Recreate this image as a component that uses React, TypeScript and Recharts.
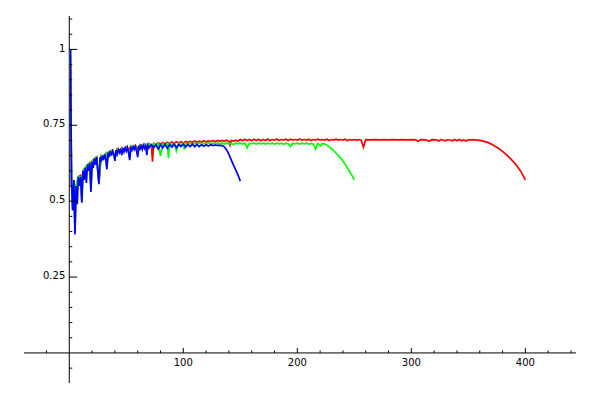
import React from "react";
import { LineChart, Line, XAxis, YAxis, ReferenceLine } from "recharts";

// ---- data ----
const redN = [1,2,3,4,5,6,8,10,11,12,14,16,18,19,20,22,24,26,28,30,32,33,34,36,38,40,42,44,46,48,50,52,54,56,58,60,62,64,66,68,70,72,73,74,76,78,80,82,84,86,88,90,92,94,96,98,100,102,104,106,108,110,112,114,116,118,120,122,124,126,128,130,132,134,136,138,140,141,142,144,146,148,150,152,154,156,158,160,162,164,166,168,170,172,174,176,178,180,182,184,186,188,190,192,194,196,198,200,202,204,206,208,210,212,214,216,218,220,222,224,226,228,230,232,234,236,238,240,242,244,246,248,250,252,254,256,258,260,264,268,272,276,280,284,288,292,296,300,304,306,308,312,316,318,322,324,326,330,332,336,338,340,342,344,346,348,350,352,356,360,364,368,372,376,380,384,388,392,396,400];
const redV = [1.0,0.56,0.47,0.57,0.40,0.55,0.58,0.585,0.50,0.60,0.61,0.62,0.627,0.54,0.632,0.64,0.646,0.56,0.65,0.645,0.657,0.61,0.66,0.666,0.668,0.645,0.672,0.666,0.676,0.67,0.679,0.668,0.682,0.676,0.684,0.672,0.686,0.68,0.688,0.678,0.69,0.684,0.63,0.69,0.686,0.692,0.688,0.693,0.689,0.694,0.69,0.695,0.691,0.696,0.692,0.696,0.692,0.697,0.693,0.697,0.694,0.698,0.694,0.698,0.695,0.699,0.695,0.699,0.696,0.7,0.696,0.7,0.697,0.7,0.697,0.701,0.697,0.685,0.7,0.698,0.701,0.698,0.703,0.699,0.704,0.700,0.703,0.699,0.704,0.700,0.704,0.699,0.703,0.700,0.705,0.700,0.703,0.701,0.705,0.700,0.703,0.701,0.704,0.700,0.704,0.701,0.703,0.701,0.705,0.701,0.703,0.701,0.704,0.700,0.703,0.701,0.704,0.701,0.703,0.701,0.704,0.700,0.703,0.701,0.704,0.701,0.703,0.701,0.704,0.700,0.703,0.701,0.703,0.701,0.703,0.701,0.678,0.703,0.702,0.703,0.702,0.703,0.702,0.703,0.702,0.703,0.702,0.703,0.702,0.697,0.703,0.702,0.698,0.703,0.702,0.698,0.703,0.699,0.703,0.699,0.703,0.699,0.703,0.699,0.702,0.698,0.702,0.702,0.702,0.700,0.697,0.692,0.684,0.675,0.664,0.651,0.636,0.619,0.598,0.570];

const greenN = [1,2,3,4,5,6,8,10,11,12,14,16,18,19,20,22,24,26,28,30,32,33,34,36,38,40,42,44,46,48,50,52,53,54,56,58,60,62,64,66,68,70,72,74,76,78,80,82,84,86,87,88,90,92,94,96,98,100,101,102,104,106,108,110,112,114,116,118,120,122,124,126,128,130,132,134,136,138,140,142,144,146,148,150,152,154,156,158,160,162,164,166,168,170,172,174,176,178,180,182,184,186,188,190,192,194,196,198,200,202,204,206,208,210,212,214,216,218,220,222,224,226,228,230,232,234,236,238,240,242,244,246,248,250];
const greenV = [1.0,0.56,0.47,0.57,0.40,0.55,0.58,0.58,0.50,0.60,0.61,0.62,0.625,0.535,0.63,0.64,0.645,0.56,0.65,0.64,0.655,0.61,0.66,0.665,0.667,0.64,0.67,0.664,0.673,0.668,0.676,0.664,0.64,0.68,0.672,0.682,0.66,0.684,0.676,0.686,0.665,0.688,0.68,0.689,0.682,0.69,0.649,0.689,0.684,0.69,0.642,0.69,0.685,0.691,0.665,0.69,0.686,0.691,0.67,0.69,0.687,0.692,0.686,0.691,0.688,0.692,0.686,0.691,0.688,0.692,0.689,0.691,0.688,0.692,0.689,0.691,0.688,0.692,0.689,0.691,0.686,0.692,0.689,0.691,0.688,0.691,0.676,0.691,0.689,0.692,0.688,0.691,0.689,0.691,0.688,0.691,0.689,0.691,0.688,0.691,0.689,0.691,0.687,0.691,0.689,0.68,0.691,0.689,0.691,0.688,0.691,0.689,0.691,0.688,0.69,0.688,0.672,0.69,0.682,0.690,0.688,0.684,0.679,0.673,0.666,0.658,0.650,0.642,0.632,0.621,0.609,0.597,0.584,0.570];

const blueN = [1,2,3,4,5,6,7,8,9,10,11,12,13,14,15,16,17,18,19,20,21,22,23,24,25,26,27,28,29,30,31,32,33,34,35,36,37,38,39,40,41,42,43,44,45,46,47,48,49,50,51,52,53,54,55,56,57,58,59,60,61,62,63,64,65,66,67,68,69,70,72,74,76,78,80,82,84,86,88,90,92,94,96,98,100,102,104,106,108,110,112,114,116,118,120,122,124,126,128,130,132,134,136,138,140,142,144,146,148,150];
const blueV = [1.0,0.56,0.47,0.57,0.39,0.55,0.49,0.58,0.55,0.58,0.495,0.60,0.57,0.61,0.56,0.62,0.60,0.625,0.53,0.63,0.61,0.64,0.62,0.645,0.60,0.556,0.645,0.63,0.65,0.635,0.655,0.64,0.605,0.66,0.645,0.665,0.65,0.665,0.655,0.633,0.668,0.655,0.67,0.66,0.672,0.652,0.675,0.662,0.675,0.665,0.677,0.66,0.635,0.678,0.668,0.68,0.67,0.68,0.665,0.645,0.682,0.672,0.682,0.67,0.684,0.674,0.683,0.652,0.684,0.676,0.686,0.676,0.686,0.672,0.686,0.676,0.687,0.674,0.687,0.678,0.688,0.676,0.687,0.68,0.688,0.678,0.687,0.68,0.688,0.679,0.687,0.68,0.686,0.681,0.686,0.682,0.686,0.683,0.685,0.684,0.684,0.683,0.679,0.669,0.654,0.636,0.619,0.603,0.586,0.566];

const xTicks = [-20,20,40,60,80,100,120,140,160,180,200,220,240,260,280,300,320,340,360,380,400,420,440];
const xMajor = [100,200,300,400];
const yTicks = [-0.05,0.05,0.1,0.15,0.2,0.25,0.3,0.35,0.4,0.45,0.5,0.55,0.6,0.65,0.7,0.75,0.8,0.85,0.9,0.95,1,1.05,1.1];
const yMajor = [0.25,0.5,0.75,1];
const yMajorLabels = ["0.25","0.5","0.75","1"];

// ---- layout ----
const W = 592;
const H = 392;
const M = { top: 8, left: 15, right: 24, bottom: 16 };
const AXIS_X_H = 1;
const AXIS_Y_W = 1;
const X_MIN = -39.7;
const X_MAX = 444.4;
const Y_MIN = -0.099;
const Y_MAX = 1.11;
const plotLeft = M.left + AXIS_Y_W;
const plotTop = M.top;
const plotW = W - plotLeft - M.right;
const plotH = H - M.top - M.bottom - AXIS_X_H;
const zeroX = plotLeft + ((0 - X_MIN) / (X_MAX - X_MIN)) * plotW;
const zeroY = plotTop + ((Y_MAX - 0) / (Y_MAX - Y_MIN)) * plotH;

const toRows = (ns: number[], vs: number[]) => ns.map((n, i) => ({ x: n, y: vs[i] }));
const redData = toRows(redN, redV);
const greenData = toRows(greenN, greenV);
const blueData = toRows(blueN, blueV);

const FONT = "'DejaVu Sans', sans-serif";

const renderXTick = (props: any) => {
  const { x, payload } = props;
  const v = payload.value;
  const major = xMajor.includes(v);
  return (
    <g key={"xt" + v}>
      <line x1={x} x2={x} y1={zeroY} y2={zeroY - (major ? 5 : 2.5)} stroke="#000" strokeWidth={1} />
      {major && (
        <text x={x} y={zeroY + 13.5} textAnchor="middle" fontSize={10} fontFamily={FONT} fill="#000">
          {String(v)}
        </text>
      )}
    </g>
  );
};

const renderYTick = (props: any) => {
  const { y, payload } = props;
  const v = payload.value;
  const idx = yMajor.findIndex((m) => Math.abs(m - v) < 1e-9);
  const major = idx >= 0;
  return (
    <g key={"yt" + v}>
      <line x1={zeroX} x2={zeroX + (major ? 8 : 3)} y1={y} y2={y} stroke="#000" strokeWidth={1} />
      {major && (
        <text x={zeroX - 4} y={y + 2.2} textAnchor="end" fontSize={10} fontFamily={FONT} fill="#000">
          {yMajorLabels[idx]}
        </text>
      )}
    </g>
  );
};

export default function App() {
  return (
    <div style={{ width: W, height: H }}>
      <LineChart width={W} height={H} margin={M}>
        <ReferenceLine x={0} stroke="#000" strokeWidth={1} />
        <ReferenceLine y={0} stroke="#000" strokeWidth={1} />
        <XAxis
          type="number"
          dataKey="x"
          domain={[X_MIN, X_MAX]}
          allowDataOverflow
          ticks={xTicks}
          interval={0}
          height={AXIS_X_H}
          axisLine={false}
          tickLine={false}
          tick={renderXTick}
        />
        <YAxis
          type="number"
          dataKey="y"
          domain={[Y_MIN, Y_MAX]}
          allowDataOverflow
          ticks={yTicks}
          interval={0}
          width={AXIS_Y_W}
          axisLine={false}
          tickLine={false}
          tick={renderYTick}
        />
        <Line data={redData} dataKey="y" type="linear" dot={false} stroke="#ff0000" strokeWidth={1.7} isAnimationActive={false} />
        <Line data={greenData} dataKey="y" type="linear" dot={false} stroke="#00ff00" strokeWidth={1.7} isAnimationActive={false} />
        <Line data={blueData} dataKey="y" type="linear" dot={false} stroke="#0000ff" strokeWidth={1.7} isAnimationActive={false} />
      </LineChart>
    </div>
  );
}
